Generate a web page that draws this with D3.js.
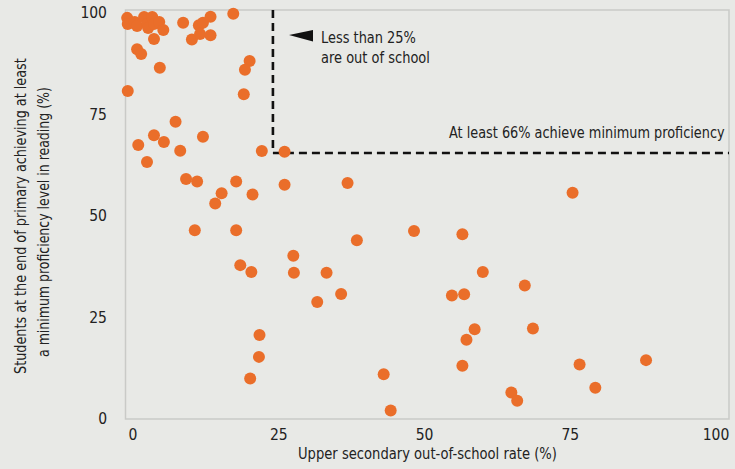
<!DOCTYPE html>
<html>
<head>
<meta charset="utf-8">
<script src="https://cdn.jsdelivr.net/npm/d3@7"></script>
<style>
  html, body { margin: 0; padding: 0; background: #e8e9e6; }
  svg { display: block; }
  text { font-family: "DejaVu Sans Condensed", "DejaVu Sans", sans-serif; font-stretch: condensed; fill: #222; }
</style>
</head>
<body>
<svg id="chart" width="735" height="469"></svg>
<script>
// Upper secondary out-of-school rate (%)
const outOfSchool = [
  -1.0, -0.9, 0.3, 0.7, 1.9, 2.4, 2.6, 3.3, 3.6, 4.5, 5.2, 3.6, 8.6, 10.1, 11.3, 12.0, 13.3, 11.5, 13.3, 17.2,
  0.7, 1.4, 4.6, -0.9, 20.0, 19.2, 19.0,
  7.3, 3.6, 12.0, 0.9, 5.3, 8.1, 2.4, 22.1, 26.0,
  9.1, 11.0, 17.7, 15.2, 20.5, 26.0, 36.8, 14.1, 10.6, 17.7, 38.4, 48.2, 27.5, 18.4, 20.3, 27.6, 33.2, 35.7, 31.6,
  21.7, 21.6, 20.1, 43.0, 44.2,
  75.4, 56.5, 60.0, 67.2, 54.7, 56.8, 58.6, 68.6, 57.2, 56.5, 76.6, 88.0, 79.3, 64.9, 65.9
];
// Students achieving minimum proficiency in reading (%)
const proficiency = [
  98.8, 97.3, 97.8, 96.8, 99.0, 97.3, 96.3, 99.0, 97.3, 97.8, 95.8, 93.6, 97.6, 93.5, 97.0, 97.6, 99.1, 94.8, 94.5, 99.8,
  91.1, 89.9, 86.5, 80.8, 88.2, 86.0, 80.0,
  73.2, 69.9, 69.5, 67.5, 68.2, 66.1, 63.3, 66.0, 65.8,
  59.1, 58.5, 58.5, 55.6, 55.3, 57.7, 58.1, 53.1, 46.5, 46.5, 44.0, 46.3, 40.2, 37.9, 36.2, 36.0, 36.0, 30.8, 28.8,
  20.7, 15.3, 10.0, 11.0, 2.1,
  55.7, 45.5, 36.2, 32.9, 30.4, 30.7, 22.1, 22.3, 19.5, 13.1, 13.4, 14.5, 7.7, 6.5, 4.5
];
const xTicks = [0, 25, 50, 75, 100];
const yTicks = [0, 25, 50, 75, 100];
const xThreshold = 24;
const yThreshold = 65.5;
const xTitle = "Upper secondary out-of-school rate (%)";
const yTitle = ["Students at the end of primary achieving at least", "a minimum proficiency level in reading (%)"];
const noteSchool = ["Less than 25%", "are out of school"];
const noteProf = "At least 66% achieve minimum proficiency";

const svg = d3.select("#chart");
const W = 735, H = 469;
const frame = { left: 125.5, right: 729, top: 10, bottom: 419 };

const x = d3.scaleLinear().domain([0, 100]).range([133, 716]);
const y = d3.scaleLinear().domain([0, 100]).range([419, 13]);

svg.append("rect").attr("width", W).attr("height", H).attr("fill", "#e8e9e6");

// helper: text squeezed horizontally to a target width via transform
function fitText(str, tx, ty, width, rot) {
  const g = svg.append("g");
  const t = g.append("text").attr("font-size", 15.5).text(str);
  const len = t.node().getComputedTextLength();
  const s = width / len;
  g.attr("transform", `translate(${tx},${ty})` + (rot ? ` rotate(${rot})` : "") + ` scale(${s},1)`);
  return t;
}

// frame
svg.append("rect")
  .attr("x", frame.left).attr("y", frame.top)
  .attr("width", frame.right - frame.left).attr("height", frame.bottom - frame.top)
  .attr("fill", "none").attr("stroke", "#c9cac7").attr("stroke-width", 1.5);

// ticks
svg.append("g").selectAll("text").data(yTicks).join("text")
  .attr("x", 107).attr("y", d => y(d))
  .attr("text-anchor", "end").attr("dominant-baseline", "central")
  .attr("font-size", 15.5).text(d => d);

svg.append("g").selectAll("text").data(xTicks).join("text")
  .attr("x", d => x(d)).attr("y", 440)
  .attr("text-anchor", "middle")
  .attr("font-size", 15.5).text(d => d);

// titles
fitText(xTitle, 298, 459, 259);
fitText(yTitle[0], 26, 374, 316, -90);
fitText(yTitle[1], 49, 357, 270, -90);

// threshold lines
svg.append("line")
  .attr("x1", x(xThreshold)).attr("x2", x(xThreshold))
  .attr("y1", frame.top).attr("y2", y(yThreshold))
  .attr("stroke", "#111").attr("stroke-width", 2.6).attr("stroke-dasharray", "8,5");
svg.append("line")
  .attr("x1", x(xThreshold)).attr("x2", frame.right)
  .attr("y1", y(yThreshold)).attr("y2", y(yThreshold))
  .attr("stroke", "#111").attr("stroke-width", 2.6).attr("stroke-dasharray", "8,5");

// points
svg.append("g").selectAll("circle").data(outOfSchool.map((v, i) => [v, proficiency[i]])).join("circle")
  .attr("cx", d => x(d[0])).attr("cy", d => y(d[1]))
  .attr("r", 6).attr("fill", "#ea6e2a");

// annotations
svg.append("path").attr("d", "M289,35 L313,30 L313,41.5 Z").attr("fill", "#111");
fitText(noteSchool[0], 321, 43, 95);
fitText(noteSchool[1], 321, 63, 109);
fitText(noteProf, 449, 138, 276);
</script>
</body>
</html>
